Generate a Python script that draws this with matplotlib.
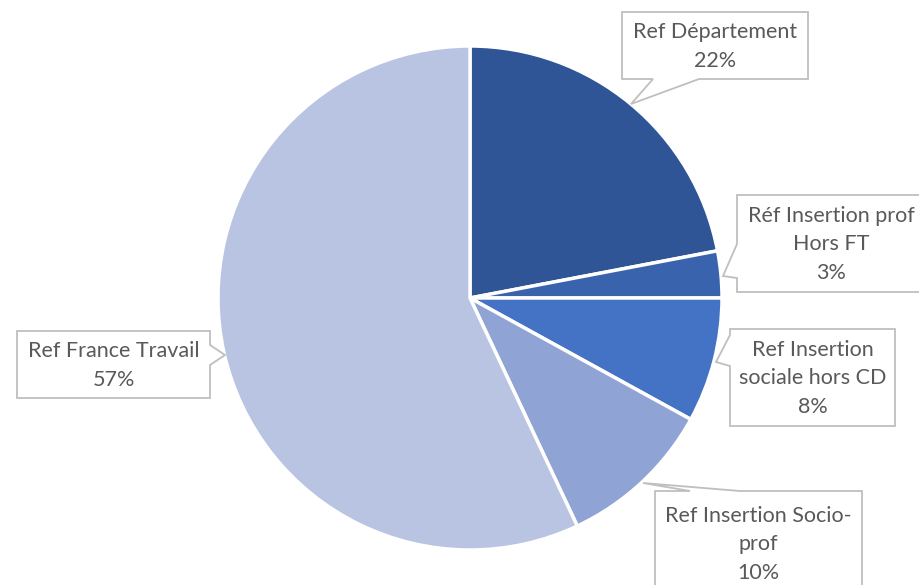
import matplotlib.pyplot as plt
from matplotlib.patches import Polygon

# Chart data
labels = ["Ref Département", "Réf Insertion prof\nHors FT", "Ref Insertion\nsociale hors CD",
          "Ref Insertion Socio-\nprof", "Ref France Travail"]
shares = [22, 3, 8, 10, 57]
colors = ["#2F5597", "#3A63AD", "#4472C4", "#8FA4D5", "#B9C3E2"]

W, H = 920, 585
TEXT_COLOR = "#595959"
BOX_EDGE = "#BFBFBF"


def callout(ax, box, side, base, tip, text):
    """Draw a callout box (x0, y0, x1, y1 in top-down px) with a pointer."""
    x0, y0, x1, y1 = box
    # flip y to bottom-up
    y0, y1 = H - y0, H - y1
    tx, ty = tip[0], H - tip[1]
    if side == "bottom":
        a, b = base
        pts = [(x0, y0), (x1, y0), (x1, y1), (b, y1), (tx, ty), (a, y1), (x0, y1)]
    elif side == "top":
        a, b = base
        pts = [(x0, y0), (a, y0), (tx, ty), (b, y0), (x1, y0), (x1, y1), (x0, y1)]
    elif side == "left":
        a, b = H - base[0], H - base[1]
        pts = [(x0, y0), (x1, y0), (x1, y1), (x0, y1), (x0, b), (tx, ty), (x0, a)]
    else:  # right
        a, b = H - base[0], H - base[1]
        pts = [(x0, y0), (x1, y0), (x1, a), (tx, ty), (x1, b), (x1, y1), (x0, y1)]
    ax.add_patch(Polygon(pts, closed=True, facecolor="white", edgecolor=BOX_EDGE,
                         linewidth=1.3, zorder=3))
    ax.text((x0 + x1) / 2, (y0 + y1) / 2 - 1, text, ha="center", va="center",
            color=TEXT_COLOR, fontsize=15.5, family="Lato", linespacing=1.52, zorder=4)


fig = plt.figure(figsize=(W / 100, H / 100), dpi=100)
ax = fig.add_axes([0, 0, 1, 1])
ax.set_xlim(0, W)
ax.set_ylim(0, H)
ax.set_aspect("equal")
ax.axis("off")

ax.pie(shares, colors=colors, startangle=90, counterclock=False,
       center=(470, H - 298), radius=252,
       wedgeprops=dict(edgecolor="white", linewidth=2.5))
ax.set_xlim(0, W)
ax.set_ylim(0, H)

texts = [f"{lab}\n{s}%" for lab, s in zip(labels, shares)]

callout(ax, (622, 12, 808, 79), "bottom", (653, 699), (631, 104), texts[0])
callout(ax, (737, 195, 925, 292), "left", (244, 278), (723, 276), texts[1])
callout(ax, (730, 329, 895, 426), "left", (335, 366), (716, 362), texts[2])
callout(ax, (655, 491, 862, 596), "top", (690, 740), (643, 483), texts[3])
callout(ax, (17, 331, 210, 398), "right", (345, 365), (225, 355), texts[4])

fig.savefig("out.png", dpi=100)
